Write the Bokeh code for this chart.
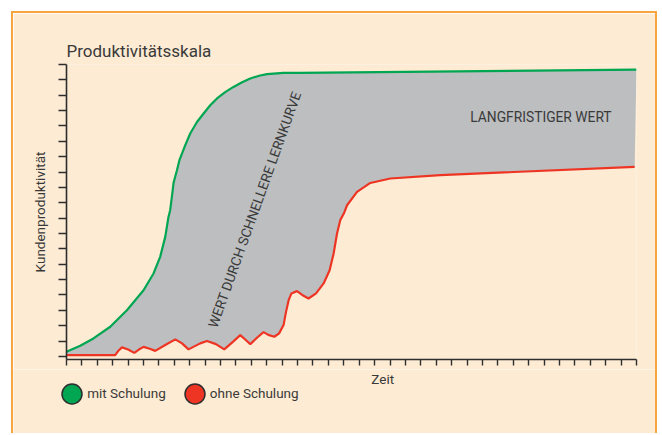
from bokeh.plotting import figure
from bokeh.layouts import column
from bokeh.models import Range1d, FixedTicker, Label, Legend, LegendItem
from bokeh.embed import file_html
from bokeh.resources import INLINE

# ---- data (time units on x, productivity units on y) ----
x_ticks = list(range(0, 38))
y_ticks = list(range(0, 20))

mit_x = [0, 0.89, 1.75, 2.84, 3.92, 5.0, 5.65, 6.08, 6.41, 6.62, 6.73, 6.84, 6.95, 7.17,
         7.33, 7.71, 8.03, 8.47, 8.9, 9.33, 9.77, 10.3, 10.84, 11.4, 11.93, 12.5, 13.01,
         14.09, 15.18, 37.0]
mit_y = [0.30, 0.69, 1.17, 1.93, 3.01, 4.31, 5.40, 6.48, 7.78, 9.08, 9.52, 10.39, 11.3, 12.12,
         12.77, 13.75, 14.51, 15.26, 15.81, 16.35, 16.79, 17.2, 17.54, 17.85, 18.09, 18.27, 18.37,
         18.45, 18.46, 18.67]

ohne_x = [0, 3.16, 3.35, 3.60, 4.0, 4.40, 4.7, 5.0, 5.4, 5.76, 6.41, 7.06, 7.5, 7.92,
          8.68, 9.12, 9.7, 10.24, 10.8, 11.28, 11.6, 11.93, 12.4, 12.79, 13.1, 13.49,
          13.8, 14.09, 14.25, 14.42, 14.6, 14.96, 15.3, 15.71, 16.2, 16.69, 17.08, 17.34,
          17.56, 17.77, 18.0, 18.21, 18.86, 19.72, 21.02, 24.27, 36.88]
ohne_y = [0.08, 0.08, 0.35, 0.59, 0.45, 0.23, 0.45, 0.62, 0.5, 0.36, 0.74, 1.11, 0.85, 0.46,
          0.85, 1.0, 0.8, 0.46, 0.95, 1.39, 1.1, 0.80, 1.25, 1.58, 1.4, 1.28,
          1.5, 2.04, 2.9, 3.66, 4.1, 4.25, 4.0, 3.77, 4.1, 4.75, 5.61, 6.70,
          8.0, 8.87, 9.3, 9.84, 10.71, 11.29, 11.58, 11.80, 12.34]

title_text = "Produktivitätsskala"
y_label = "Kundenproduktivität"
x_label = "Zeit"
series_names = ["mit Schulung", "ohne Schulung"]
gap_text = "WERT DURCH SCHNELLERE LERNKURVE"
long_text = "LANGFRISTIGER WERT"

# ---- style ----
CREAM = "#FDEBD3"
ORANGE = "#F7A541"
GREEN = "#00A651"
RED = "#EE3524"
GRAY = "#BCBEC0"
INK = "#2E2E2E"
TXT = "#3A3A3A"
FONT = "Roboto"
BORDER = f"2px solid {ORANGE}"

p = figure(width=646, height=358, output_backend="svg", toolbar_location=None,
           x_range=Range1d(0, 37), y_range=Range1d(-0.2, 19.0),
           min_border_left=53, min_border_right=23, min_border_top=51, min_border_bottom=12)
p.frame_align = False
p.styles = {"border-left": BORDER, "border-top": BORDER, "border-right": BORDER}
p.background_fill_color = CREAM
p.border_fill_color = CREAM
p.outline_line_color = None
p.grid.visible = False

p.title.text = title_text
p.title.text_font = FONT
p.title.text_font_size = "17px"
p.title.text_font_style = "normal"
p.title.text_color = TXT
p.title.align = "left"
p.title.offset = 0
p.title.standoff = 7

for ax in (p.xaxis[0], p.yaxis[0]):
    ax.axis_line_color = INK
    ax.axis_line_width = 1.6
    ax.major_tick_line_color = None
    ax.minor_tick_line_color = INK
    ax.minor_tick_line_width = 1.4
    ax.minor_tick_in = 0
    ax.major_label_standoff = 0

# ticks without labels
p.xaxis.ticker = FixedTicker(ticks=[], minor_ticks=x_ticks)
p.yaxis.ticker = FixedTicker(ticks=[], minor_ticks=y_ticks)
p.xaxis.minor_tick_out = 6
p.yaxis.minor_tick_out = 8

p.yaxis.axis_label = y_label
p.yaxis.axis_label_text_font = FONT
p.yaxis.axis_label_text_font_size = "13.5px"
p.yaxis.axis_label_text_font_style = "normal"
p.yaxis.axis_label_text_color = TXT
p.yaxis.axis_label_standoff = 11

# gap area between the two curves
p.patch(mit_x + ohne_x[::-1], mit_y + ohne_y[::-1], fill_color=GRAY, line_color=None)
p.line(mit_x, mit_y, line_color=GREEN, line_width=2.2)
p.line(ohne_x, ohne_y, line_color=RED, line_width=2.2)

p.add_layout(Label(x=9.46, y=1.91, text=gap_text, angle=70.2, angle_units="deg",
                   text_font=FONT, text_font_size="13.7px", text_color=TXT,
                   text_baseline="alphabetic", text_align="left"))
p.add_layout(Label(x=26.21, y=15.59, text=long_text, text_font=FONT,
                   text_font_size="13.8px", text_color=TXT,
                   text_baseline="middle", text_align="left"))

# ---- strip below the axis: axis title and legend ----
p2 = figure(width=646, height=64, output_backend="svg", toolbar_location=None,
            x_range=Range1d(-3.46, 38.48), y_range=Range1d(-10, -9),
            x_axis_location=None, y_axis_location=None, min_border=0,
            min_border_left=0, min_border_right=0, min_border_top=0, min_border_bottom=0)
p2.frame_align = False
p2.styles = {"border-left": BORDER, "border-right": BORDER}
p2.background_fill_color = CREAM
p2.border_fill_color = CREAM
p2.outline_line_color = None
p2.grid.visible = False

p2.add_layout(Label(x=19.77, y=55, y_units="screen", text=x_label, text_font=FONT,
                    text_font_size="13.5px", text_color=TXT,
                    text_baseline="middle", text_align="left"))

# legend markers (their single point lies outside this strip's range)
g_mark = p2.ellipse(x=mit_x[-1:], y=mit_y[-1:], width=20, height=20,
                    width_units="screen", height_units="screen",
                    fill_color=GREEN, line_color=INK, line_width=1.5)
r_mark = p2.ellipse(x=ohne_x[-1:], y=ohne_y[-1:], width=20, height=20,
                    width_units="screen", height_units="screen",
                    fill_color=RED, line_color=INK, line_width=1.5)
legend = Legend(items=[LegendItem(label=series_names[0], renderers=[g_mark]),
                       LegendItem(label=series_names[1], renderers=[r_mark])],
                location=(46.2, 27.2), orientation="horizontal",
                glyph_width=25, glyph_height=25, label_standoff=3, spacing=16,
                padding=0, margin=0, border_line_color=None, background_fill_alpha=0,
                label_text_font=FONT, label_text_font_size="13.5px", label_text_color=TXT)
p2.add_layout(legend, "center")

layout = column(p, p2, margin=(11, 0, 0, 11), spacing=0)

open("out.html", "w").write(file_html(layout, INLINE))
